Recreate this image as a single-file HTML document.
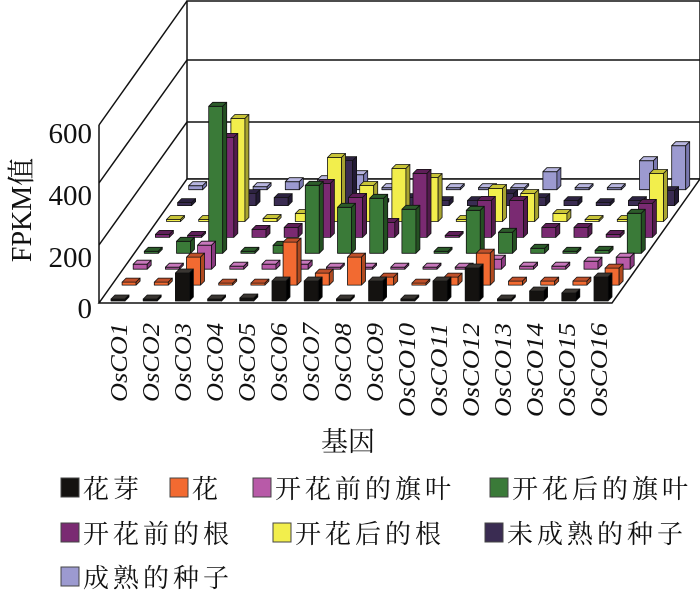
<!DOCTYPE html>
<html><head><meta charset="utf-8">
<style>
html,body{margin:0;padding:0;background:#fff;}
svg{display:block;}
.sf{font-family:"Liberation Serif","Noto Serif CJK SC",serif;}
</style></head>
<body>
<svg id="s" width="700" height="591" xmlns="http://www.w3.org/2000/svg">
<rect width="700" height="591" fill="#fff"/>
<polygon points="187,1 700,1 700,179 187,179" fill="#fff" stroke="#111" stroke-width="1.5"/>
<line x1="187" y1="60" x2="700" y2="60" stroke="#111" stroke-width="1.5"/>
<line x1="187" y1="122" x2="700" y2="122" stroke="#111" stroke-width="1.5"/>
<line x1="187" y1="1" x2="99" y2="125" stroke="#111" stroke-width="1.5"/>
<line x1="187" y1="60" x2="99" y2="183" stroke="#111" stroke-width="1.5"/>
<line x1="187" y1="122" x2="99" y2="245" stroke="#111" stroke-width="1.5"/>
<line x1="99" y1="125" x2="99" y2="303" stroke="#111" stroke-width="1.5"/>
<polygon points="99,303 612,303 700,179 187,179" fill="#fff" stroke="#111" stroke-width="1.5"/>
<g id="bars"></g>
<g class="sf" font-size="29" fill="#111" text-anchor="end">
<text x="92" y="143">600</text>
<text x="92" y="205">400</text>
<text x="92" y="267">200</text>
<text x="92" y="318">0</text>
</g>
<text class="sf" transform="translate(31,210) rotate(-90)" text-anchor="middle" font-size="28" fill="#111">FPKM值</text>
<g id="glab" class="sf" font-style="italic" font-size="24" fill="#111"></g>
<text class="sf" x="348" y="451" text-anchor="middle" font-size="27" fill="#111">基因</text>
<g id="leg" class="sf" font-size="26" fill="#111"></g>
</svg>
<script>
var NS="http://www.w3.org/2000/svg";
var data=[
[2,2,28,2,3,20,20,2,20,2,20,33,2,10,8,24],
[3,3,28,2,2,43,12,28,8,2,8,32,4,4,4,17],
[5,2,24,3,5,5,2,2,2,2,2,10,3,3,8,12],
[2,12,147,2,8,68,46,55,44,2,43,21,5,2,3,40],
[3,2,100,8,10,54,40,15,64,2,37,37,10,10,3,34],
[2,2,103,3,8,64,36,53,44,2,33,28,8,2,2,48],
[3,3,12,8,3,45,3,8,5,5,12,8,5,3,5,15],
[4,3,3,8,10,15,2,3,2,2,2,18,2,2,29,44]];
var cols=[
["#141210","#3a3632","#000"],
["#f26a31","#c0502a","#b04a20"],
["#b85aa8","#c878bc","#8a3a80"],
["#3a7a38","#2c5c2a","#245022"],
["#7a2a72","#5e1e58","#521a4c"],
["#f2ee4c","#c8c438","#a8a430"],
["#3a2c52","#2c2240","#221a34"],
["#9c9ad0","#b8b6e0","#7a78b0"]];
var g=document.getElementById("bars");
function poly(p,f){var e=document.createElementNS(NS,"polygon");e.setAttribute("points",p.map(function(a){return a[0].toFixed(1)+","+a[1].toFixed(1)}).join(" "));e.setAttribute("fill",f);e.setAttribute("stroke","#111");e.setAttribute("stroke-width","0.8");e.setAttribute("stroke-linejoin","round");g.appendChild(e);}
for(var r=7;r>=0;r--){
 for(var i=0;i<16;i++){
  var x=111+32.2*i+11.1*r, b=301-15.9*r, h=data[r][i], w=14, dx=4, dy=-4, t=b-h;
  var c=cols[r];
  poly([[x,t],[x+w,t],[x+w,b],[x,b]],c[0]);
  poly([[x,t],[x+dx,t+dy],[x+w+dx,t+dy],[x+w,t]],c[1]);
  poly([[x+w,t],[x+w+dx,t+dy],[x+w+dx,b+dy],[x+w,b]],c[2]);
 }
}
var gl=document.getElementById("glab");
for(var i=0;i<16;i++){
 var cx=119+32*i, len=i<9?79:94;
 var t=document.createElementNS(NS,"text");
 t.setAttribute("transform","translate("+(cx+8)+",323) rotate(-90)");
 t.setAttribute("text-anchor","end");
 t.setAttribute("textLength",len);
 t.setAttribute("lengthAdjust","spacingAndGlyphs");
 t.textContent="OsCO"+(i+1);
 gl.appendChild(t);
}
var leg=document.getElementById("leg");
var items=[
[61,488,"花芽",0],[170,488,"花",1],[253,488,"开花前的旗叶",2],[490,488,"开花后的旗叶",3],
[61,533,"开花前的根",4],[273,533,"开花后的根",5],[485,533,"未成熟的种子",6],
[61,577,"成熟的种子",7]];
items.forEach(function(it){
 var r=document.createElementNS(NS,"rect");
 r.setAttribute("x",it[0]);r.setAttribute("y",it[1]-10);r.setAttribute("width",18);r.setAttribute("height",19);
 r.setAttribute("fill",cols[it[3]][0]);r.setAttribute("stroke","#444");r.setAttribute("stroke-width","1");
 leg.appendChild(r);
 var t=document.createElementNS(NS,"text");
 t.setAttribute("x",it[0]+22);t.setAttribute("y",it[1]+10);
 t.setAttribute("letter-spacing","4");
 t.textContent=it[2];
 leg.appendChild(t);
});
</script>
</body></html>
